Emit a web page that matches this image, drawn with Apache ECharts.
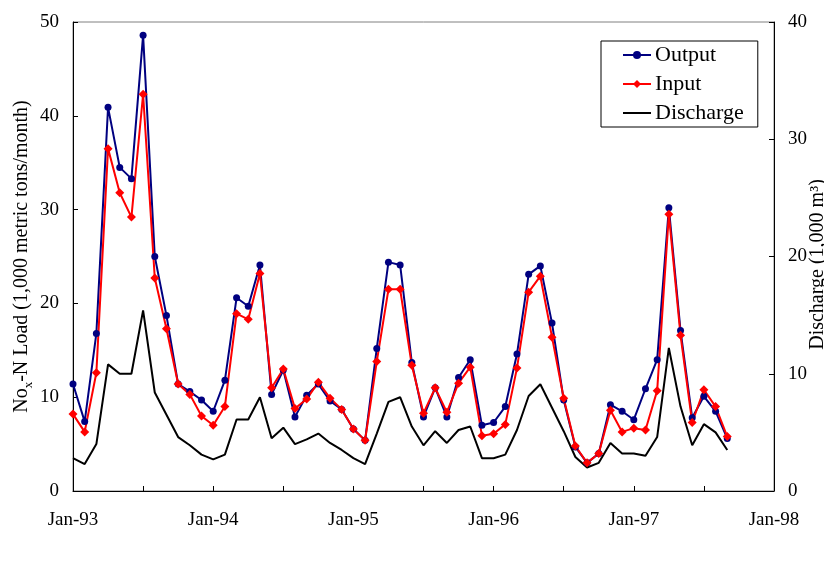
<!DOCTYPE html>
<html>
<head>
<meta charset="utf-8">
<script src="https://cdn.jsdelivr.net/npm/echarts@6/dist/echarts.min.js"></script>
<style>
html,body{margin:0;padding:0;background:#fff;}
#chart{width:824px;height:564px;}
</style>
</head>
<body>
<div id="chart"></div>
<script>
// Months from Jan-93 (index 0) to Sep-97 (index 56)
var xTickLabels = ['Jan-93', 'Jan-94', 'Jan-95', 'Jan-96', 'Jan-97', 'Jan-98'];
var leftTicks = [0, 10, 20, 30, 40, 50];
var rightTicks = [0, 10, 20, 30, 40];

var outputLoad = [11.4, 7.4, 16.8, 40.9, 34.5, 33.3, 48.6, 25.0, 18.7, 11.4, 10.6, 9.7, 8.5, 11.8, 20.6, 19.7, 24.1, 10.3, 12.9, 7.9,
  10.2, 11.4, 9.6, 8.7, 6.6, 5.4, 15.2, 24.4, 24.1, 13.7, 7.9, 11.0, 7.9, 12.1, 14.0, 7.0, 7.3, 9.0, 14.6, 23.1,
  24.0, 17.9, 9.7, 4.7, 3.0, 4.0, 9.2, 8.5, 7.6, 10.9, 14.0, 30.2, 17.1, 7.8, 10.1, 8.5, 5.6];
var inputLoad = [8.2, 6.3, 12.6, 36.5, 31.8, 29.2, 42.3, 22.7, 17.3, 11.4, 10.3, 8.0, 7.0, 9.0, 18.9, 18.3, 23.2, 11.0, 13.0, 8.8,
  9.8, 11.6, 9.9, 8.7, 6.6, 5.4, 13.8, 21.5, 21.5, 13.4, 8.3, 11.0, 8.4, 11.5, 13.2, 5.9, 6.1, 7.1, 13.1, 21.2,
  22.9, 16.4, 9.9, 4.8, 3.0, 4.0, 8.6, 6.3, 6.7, 6.5, 10.7, 29.5, 16.6, 7.3, 10.8, 9.0, 5.8];
var discharge = [2.8, 2.3, 4.0, 10.8, 10.0, 10.0, 15.4, 8.4, 6.5, 4.6, 3.9, 3.1, 2.7, 3.1, 6.1, 6.1, 8.0, 4.5, 5.4, 4.0,
  4.4, 4.9, 4.1, 3.5, 2.8, 2.3, 4.9, 7.6, 8.0, 5.5, 3.9, 5.1, 4.1, 5.2, 5.5, 2.8, 2.8, 3.1, 5.2, 8.1,
  9.1, 7.1, 5.1, 2.9, 2.0, 2.4, 4.1, 3.2, 3.2, 3.0, 4.6, 12.2, 7.2, 3.9, 5.7, 5.0, 3.5];

function pairs(arr) { return arr.map(function (v, i) { return [i, v]; }); }

var FONT = '"Liberation Serif", "Times New Roman", serif';
var chart = echarts.init(document.getElementById('chart'), null, {renderer: 'canvas'});
chart.setOption({
  animation: false,
  backgroundColor: '#fff',
  textStyle: {fontFamily: FONT, color: '#000'},
  grid: {left: 73, right: 50, top: 22, bottom: 73, outerBoundsMode: 'none', containLabel: false,
    show: true, borderColor: '#808080', borderWidth: 1, backgroundColor: 'transparent'},
  legend: {
    left: 601, top: 41, orient: 'vertical',
    padding: [3, 14, 3, 21], itemGap: 7,
    itemWidth: 28, itemHeight: 10,
    borderColor: '#000', borderWidth: 1, backgroundColor: '#fff',
    textStyle: {fontFamily: FONT, fontSize: 22, color: '#000', lineHeight: 22, padding: [0, 0, 0, -1]},
    data: ['Output', 'Input', {name: 'Discharge', icon: 'path://M0,0h28v2h-28z'}]
  },
  xAxis: {
    type: 'value', min: 0, max: 60, interval: 6,
    axisLine: {lineStyle: {color: '#000', width: 1}},
    axisTick: {inside: true, length: 5, lineStyle: {color: '#000'}},
    splitLine: {show: false},
    axisLabel: {
      fontFamily: FONT, fontSize: 19, color: '#000', margin: 20,
      formatter: function (v) { return v % 12 === 0 ? xTickLabels[v / 12] : ''; }
    }
  },
  yAxis: [{
    type: 'value', min: leftTicks[0], max: leftTicks[leftTicks.length - 1], interval: 10,
    position: 'left',
    name: '{a|No}{s|x}{a|-N Load (1,000 metric tons/month)}',
    nameLocation: 'middle', nameGap: 38, nameRotate: 90, nameMoveOverlap: false,
    nameTextStyle: {
      rich: {
        a: {fontFamily: FONT, fontSize: 20, color: '#000', lineHeight: 26, verticalAlign: 'middle'},
        s: {fontFamily: FONT, fontSize: 13, color: '#000', lineHeight: 13, verticalAlign: 'bottom'}
      }
    },
    axisLine: {show: true, lineStyle: {color: '#000', width: 1}},
    axisTick: {show: true, inside: true, length: 5, lineStyle: {color: '#000'}},
    splitLine: {show: false},
    axisLabel: {fontFamily: FONT, fontSize: 19, color: '#000', margin: 14}
  }, {
    type: 'value', min: rightTicks[0], max: rightTicks[rightTicks.length - 1], interval: 10,
    position: 'right',
    name: 'Discharge (1,000 m³)',
    nameLocation: 'middle', nameGap: 34, nameRotate: 90, nameMoveOverlap: false,
    nameTextStyle: {fontFamily: FONT, fontSize: 20, color: '#000', padding: [0, 16, 0, 0]},
    axisLine: {show: true, lineStyle: {color: '#000', width: 1}},
    axisTick: {show: true, inside: true, length: 5, lineStyle: {color: '#000'}},
    splitLine: {show: false},
    axisLabel: {fontFamily: FONT, fontSize: 19, color: '#000', margin: 14}
  }],
  series: [{
    name: 'Output', type: 'line', yAxisIndex: 0, data: pairs(outputLoad),
    symbol: 'circle', symbolSize: 7,
    lineStyle: {color: '#000080', width: 2}, itemStyle: {color: '#000080'}
  }, {
    name: 'Input', type: 'line', yAxisIndex: 0, data: pairs(inputLoad),
    symbol: 'diamond', symbolSize: 9,
    lineStyle: {color: '#ff0000', width: 2}, itemStyle: {color: '#ff0000'}
  }, {
    name: 'Discharge', type: 'line', yAxisIndex: 1, data: pairs(discharge),
    symbol: 'none', z: 1,
    lineStyle: {color: '#000', width: 2}, itemStyle: {color: '#000'}
  }]
});
</script>
</body>
</html>
